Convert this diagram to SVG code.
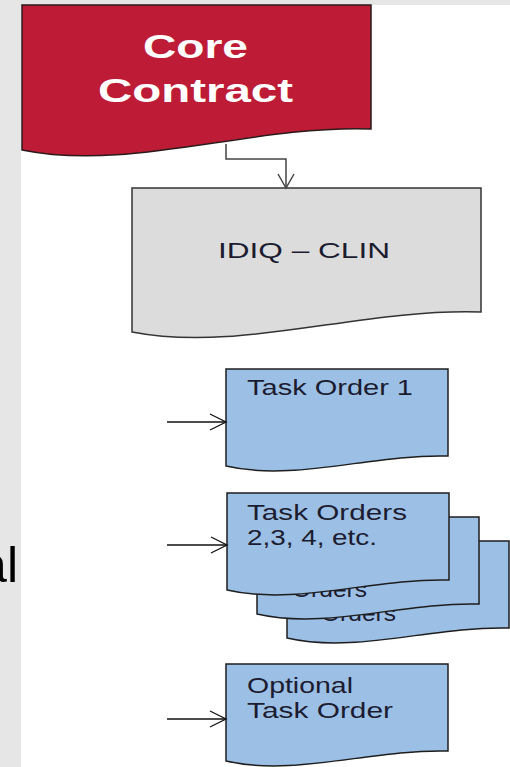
<svg xmlns="http://www.w3.org/2000/svg" width="510" height="767" viewBox="0 0 510 767">
<defs>
<style>
.t{font-family:"Liberation Sans",Arial,sans-serif;}
.blue{fill:#9cbfe5;stroke:#1e1e1e;stroke-width:1.5;}
.bt{font-family:"Liberation Sans",Arial,sans-serif;font-size:22px;fill:#1c1c30;}
.arr{stroke:#111;stroke-width:1.3;fill:none;marker-end:url(#v);}
</style>
<marker id="v" markerUnits="userSpaceOnUse" markerWidth="20" markerHeight="20" viewBox="-18 -10 20 20" refX="0" refY="0" orient="auto">
<path d="M-16,-8 L0,0 L-16,8" fill="none" stroke="#111" stroke-width="1.3"/>
</marker>
<marker id="vg" markerUnits="userSpaceOnUse" markerWidth="20" markerHeight="20" viewBox="-18 -10 20 20" refX="0" refY="0" orient="auto">
<path d="M-14,-8 L0,0 L-14,8" fill="none" stroke="#444" stroke-width="1.5"/>
</marker>
<path id="doc" d="M0,0 H222 V87 C145,85 69,113 0,97 Z"/>
</defs>
<rect x="0" y="0" width="510" height="767" fill="#e6e6e6"/>
<rect x="21" y="5" width="489" height="762" fill="#ffffff"/>
<text class="t" x="18" y="582" font-size="50" text-anchor="end" fill="#000">al</text>

<g id="core-contract">
<path d="M22,5 H371 V129 C250,125 130,172 22,150 Z" fill="#be1c36" stroke="#2a1a1a" stroke-width="1.5"/>
<text class="t" x="143" y="58" font-size="33" font-weight="bold" fill="#fff" textLength="105" lengthAdjust="spacingAndGlyphs">Core</text>
<text class="t" x="98" y="102" font-size="33" font-weight="bold" fill="#fff" textLength="195" lengthAdjust="spacingAndGlyphs">Contract</text>
</g>

<g id="idiq-clin">
<path d="M132,188 H481 V312 C360,308 240,353 132,332 Z" fill="#dcdcdc" stroke="#333" stroke-width="1.5"/>
<text class="t" x="218" y="258" font-size="22" fill="#1c1c30" textLength="172" lengthAdjust="spacingAndGlyphs">IDIQ  –  CLIN</text>
</g>

<g id="task-order-1">
<use href="#doc" class="blue" transform="translate(226,369)"/>
<text class="bt" x="247" y="395" textLength="166" lengthAdjust="spacingAndGlyphs">Task Order 1</text>
</g>

<g id="task-orders-stack">
<use href="#doc" class="blue" transform="translate(287,541)"/>
<text class="bt" x="321" y="621" textLength="75" lengthAdjust="spacingAndGlyphs">Orders</text>
<use href="#doc" class="blue" transform="translate(257,517)"/>
<text class="bt" x="292" y="597" textLength="75" lengthAdjust="spacingAndGlyphs">Orders</text>
<use href="#doc" class="blue" transform="translate(227,493)"/>
<text class="bt" x="247" y="520" textLength="160" lengthAdjust="spacingAndGlyphs">Task Orders</text>
<text class="bt" x="247" y="545" textLength="130" lengthAdjust="spacingAndGlyphs">2,3, 4, etc.</text>
</g>

<g id="optional-task-order">
<use href="#doc" class="blue" transform="translate(226,664)"/>
<text class="bt" x="247" y="693" textLength="106" lengthAdjust="spacingAndGlyphs">Optional</text>
<text class="bt" x="247" y="718" textLength="146" lengthAdjust="spacingAndGlyphs">Task Order</text>
</g>

<g id="connectors">
<path d="M226,144 V159 H286 V188" fill="none" stroke="#444" stroke-width="1.5" marker-end="url(#vg)"/>
<path class="arr" d="M167,422 H226"/>
<path class="arr" d="M167,545 H227"/>
<path class="arr" d="M167,719 H226"/>
</g>
</svg>
